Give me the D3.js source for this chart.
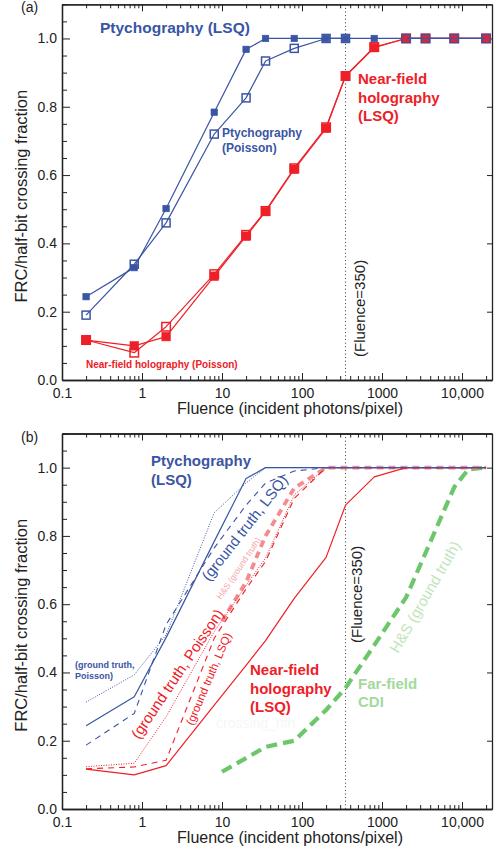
<!DOCTYPE html>
<html>
<head>
<meta charset="utf-8">
<script src="https://cdn.jsdelivr.net/npm/d3@7"></script>
<style>
  body { margin: 0; background: #fff; }
  svg { display: block; font-family: "Liberation Sans", Arial, Helvetica, sans-serif; }
</style>
</head>
<body>
<svg id="chart" width="494" height="852"></svg>
<script>
// fluence values (incident photons/pixel) shared by most series
const fluence = [0.2, 0.8, 2, 8, 20, 35, 80, 200, 350, 800, 2000, 3500, 8000, 20000];

// panel (a)
const ptychoLsq = [0.244, 0.329, 0.502, 0.784, 0.968, 1, 1, 1, 1, 1, 1, 1, 1, 1];
const ptychoPoisson = [0.190, 0.339, 0.460, 0.720, 0.826, 0.934, 0.971, 1, 1, null, 1, 1, 1, 1];
const nfhLsq = [0.117, 0.100, 0.127, 0.304, 0.421, 0.493, 0.617, 0.737, 0.890, 0.973, 1, 1, 1, 1];
const nfhPoisson = [0.117, 0.080, 0.156, 0.310, 0.425, 0.495, 0.620, 0.740, 0.890, 0.975, 1, 1, 1, 1];

// panel (b) extra curves
const ptychoGtLsq = [0.187, 0.280, 0.540, 0.765, 0.890, 0.955, 0.990, 1, 1, 1, 1, 1, 1, 1];
const ptychoGtPoisson = [0.313, 0.393, 0.510, 0.868, 0.955, 1, 1, 1, 1, 1, 1, 1, 1, 1];
const nfhGtLsq = [0.118, 0.123, 0.143, 0.500, 0.645, 0.725, 0.910, 1, 1, 1, 1, 1, 1, 1];
const nfhGtPoisson = [0.124, 0.134, 0.270, 0.520, 0.655, 0.735, 0.920, 1, 1, 1, 1, 1, 1, 1];
const hsFluence = [10, 20, 35, 80, 200, 350, 800, 2000, 3500, 8000, 20000];
const nfhHs = [0.55, 0.665, 0.80, 0.94, 1, 1, 1, 1, 1, 1, 1];
const farFieldFluence = [10, 20, 35, 80, 200, 350, 800, 2000, 3500, 8000, 12000, 20000];
const farFieldHs = [0.109, 0.149, 0.182, 0.200, 0.290, 0.355, 0.480, 0.620, 0.750, 0.943, 0.995, 1];

// axes
const fluenceTicks = [0.1, 1, 10, 100, 1000, 10000];
const fluenceTickLabels = ['0.1', '1', '10', '100', '1000', '10,000'];
const frcTicks = [0, 0.2, 0.4, 0.6, 0.8, 1.0];
const markerFluence = 350;

const blue = '#3a55a4';
const red = '#ee2027';
const pink = '#f48b8f';
const green = '#6cc66a';
const axisColor = '#222';

const svg = d3.select('#chart');
const left = 62, right = 492;

function makePanel(top, bottom, tag) {
  const x = d3.scaleLog().domain([0.1, 23700]).range([left, right]);
  const y = d3.scaleLinear().domain([0, 1.1]).range([bottom, top]);
  const g = svg.append('g');

  const minorX = x.ticks().filter(v => !fluenceTicks.includes(v));
  const minorY = d3.range(0, 1.1001, 0.05).filter(v => Math.abs(v * 5 - Math.round(v * 5)) > 1e-6);

  // bottom axis with labels
  g.append('g')
    .attr('transform', `translate(0,${bottom})`)
    .call(d3.axisBottom(x).tickValues(fluenceTicks)
      .tickFormat((d, i) => fluenceTickLabels[i])
      .tickSizeInner(-7).tickSizeOuter(0).tickPadding(8));
  g.append('g')
    .attr('transform', `translate(0,${bottom})`)
    .call(d3.axisBottom(x).tickValues(minorX).tickFormat('').tickSizeInner(-4).tickSizeOuter(0));

  // top axis
  g.append('g')
    .attr('transform', `translate(0,${top})`)
    .call(d3.axisTop(x).tickValues(fluenceTicks).tickFormat('').tickSizeInner(-7).tickSizeOuter(0));
  g.append('g')
    .attr('transform', `translate(0,${top})`)
    .call(d3.axisTop(x).tickValues(minorX).tickFormat('').tickSizeInner(-4).tickSizeOuter(0));

  // left axis
  g.append('g')
    .attr('transform', `translate(${left},0)`)
    .call(d3.axisLeft(y).tickValues(frcTicks).tickFormat(d3.format('.1f'))
      .tickSizeInner(-8).tickSizeOuter(0).tickPadding(5));
  g.append('g')
    .attr('transform', `translate(${left},0)`)
    .call(d3.axisLeft(y).tickValues(minorY).tickFormat('').tickSizeInner(-5).tickSizeOuter(0));

  // right axis
  g.append('g')
    .attr('transform', `translate(${right},0)`)
    .call(d3.axisRight(y).tickValues(frcTicks).tickFormat('').tickSizeInner(-5).tickSizeOuter(0));

  g.selectAll('.domain').attr('stroke', axisColor).attr('stroke-width', 1.3);
  g.selectAll('.tick line').attr('stroke', axisColor).attr('stroke-width', 1);
  g.selectAll('.tick text').attr('fill', '#222').style('font-size', '14px');

  // axis titles
  g.append('text')
    .attr('x', 290)
    .attr('y', bottom + 34)
    .attr('text-anchor', 'middle')
    .style('font-size', '16px')
    .attr('fill', '#222')
    .text('Fluence (incident photons/pixel)');

  g.append('text')
    .attr('transform', `translate(27,${(top + bottom) / 2 + 4}) rotate(-90)`)
    .attr('text-anchor', 'middle')
    .style('font-size', '16.5px')
    .attr('fill', '#222')
    .text('FRC/half-bit crossing fraction');

  g.append('text')
    .attr('x', 21)
    .attr('y', top + 8)
    .style('font-size', '14px')
    .attr('fill', '#222')
    .text(tag);

  // fluence = 350 marker
  g.append('line')
    .attr('x1', x(markerFluence)).attr('x2', x(markerFluence))
    .attr('y1', top).attr('y2', bottom)
    .attr('stroke', '#333')
    .attr('stroke-width', 1)
    .attr('stroke-dasharray', '1,2.6');

  return { g, x, y };
}

function drawLine(p, xs, ys, color, width, dash) {
  const line = d3.line()
    .defined((d, i) => ys[i] != null)
    .x(d => p.x(d))
    .y((d, i) => p.y(ys[i]));
  p.g.append('path')
    .datum(xs)
    .attr('d', line)
    .attr('fill', 'none')
    .attr('stroke', color)
    .attr('stroke-width', width)
    .attr('stroke-dasharray', dash || null)
    .attr('stroke-linejoin', 'round');
}

function drawSquares(p, xs, ys, color, size, open) {
  const pts = xs.map((d, i) => ({ x: d, y: ys[i] })).filter(d => d.y != null);
  p.g.selectAll(null)
    .data(pts)
    .enter()
    .append('rect')
    .attr('x', d => p.x(d.x) - size / 2)
    .attr('y', d => p.y(d.y) - size / 2)
    .attr('width', size)
    .attr('height', size)
    .attr('fill', open ? 'none' : color)
    .attr('stroke', color)
    .attr('stroke-width', open ? 1.5 : 0.6);
}

function label(p, lines, x, y, opts) {
  const t = p.g.append('text')
    .attr('transform', opts.rotate ? `translate(${x},${y}) rotate(${opts.rotate})` : `translate(${x},${y})`)
    .attr('fill', opts.color)
    .style('font-size', opts.size + 'px')
    .style('font-weight', opts.bold ? 'bold' : 'normal');
  lines.forEach((s, i) => {
    t.append('tspan').attr('x', 0).attr('y', i * (opts.lh || opts.size * 1.22)).text(s);
  });
  return t;
}

// ---------- panel (a) ----------
const pa = makePanel(4.3, 380, '(a)');

drawLine(pa, fluence, ptychoLsq, blue, 1.2);
drawSquares(pa, fluence, ptychoLsq, blue, 6.5, false);
drawLine(pa, fluence, nfhPoisson, red, 1.2);
drawSquares(pa, fluence, nfhPoisson, red, 8.5, true);
drawLine(pa, fluence, nfhLsq, red, 1.2);
drawSquares(pa, fluence, nfhLsq, red, 8.5, false);
drawLine(pa, fluence, ptychoPoisson, blue, 1.2);
drawSquares(pa, fluence, ptychoPoisson, blue, 8, true);

label(pa, ['Ptychography (LSQ)'], 100, 33, { color: blue, size: 15.5, bold: true });
label(pa, ['Ptychography', '(Poisson)'], 222, 137, { color: blue, size: 12, bold: true, lh: 15 });
label(pa, ['Near-field', 'holography', '(LSQ)'], 358, 84, { color: red, size: 15, bold: true, lh: 18.5 });
label(pa, ['Near-field holography (Poisson)'], 86, 368, { color: red, size: 10, bold: true });
label(pa, ['(Fluence=350)'], 365, 357, { color: '#222', size: 15, rotate: -90 });

// ---------- panel (b) ----------
const pb = makePanel(433.5, 809, '(b)');

label(pb, ['crossing_nfh'], 216, 728, { color: '#f7f7f7', size: 14 });

drawLine(pb, farFieldFluence, farFieldHs, green, 4.2, '11,6');
drawLine(pb, hsFluence, nfhHs, pink, 3.8, '7,5');
drawLine(pb, fluence, nfhGtPoisson, red, 1, '1,1.5');
drawLine(pb, fluence, nfhGtLsq, red, 1.1, '6,5');
drawLine(pb, fluence, nfhLsq, red, 1.2);
drawLine(pb, fluence, ptychoGtPoisson, blue, 1, '1,1.5');
drawLine(pb, fluence, ptychoGtLsq, blue, 1.1, '6,5');
drawLine(pb, fluence, ptychoLsq, blue, 1.2);

label(pb, ['Ptychography', '(LSQ)'], 151, 466, { color: blue, size: 15, bold: true, lh: 19 });
label(pb, ['(ground truth,', 'Poisson)'], 75, 668, { color: blue, size: 9, bold: true, lh: 11 });
label(pb, ['(ground truth, LSQ)'], 209, 582, { color: blue, size: 15, rotate: -52 });
label(pb, ['(ground truth, Poisson)'], 139, 740, { color: red, size: 15, rotate: -56 });
label(pb, ['(ground truth, LSQ)'], 193, 726, { color: red, size: 11.5, rotate: -67 });
label(pb, ['H&S (ground truth)'], 221, 600, { color: '#f6a5a8', size: 8.6, rotate: -56 });
label(pb, ['Near-field', 'holography', '(LSQ)'], 250, 675, { color: red, size: 15, bold: true, lh: 18.5 });
label(pb, ['Far-field', 'CDI'], 358, 689, { color: '#a3d99d', size: 15, bold: true, lh: 18 });
label(pb, ['H&S (ground truth)'], 398, 654, { color: '#bfe5ba', size: 15, rotate: -60 });
label(pb, ['(Fluence=350)'], 362, 643, { color: '#222', size: 15, rotate: -90 });
</script>
</body>
</html>
